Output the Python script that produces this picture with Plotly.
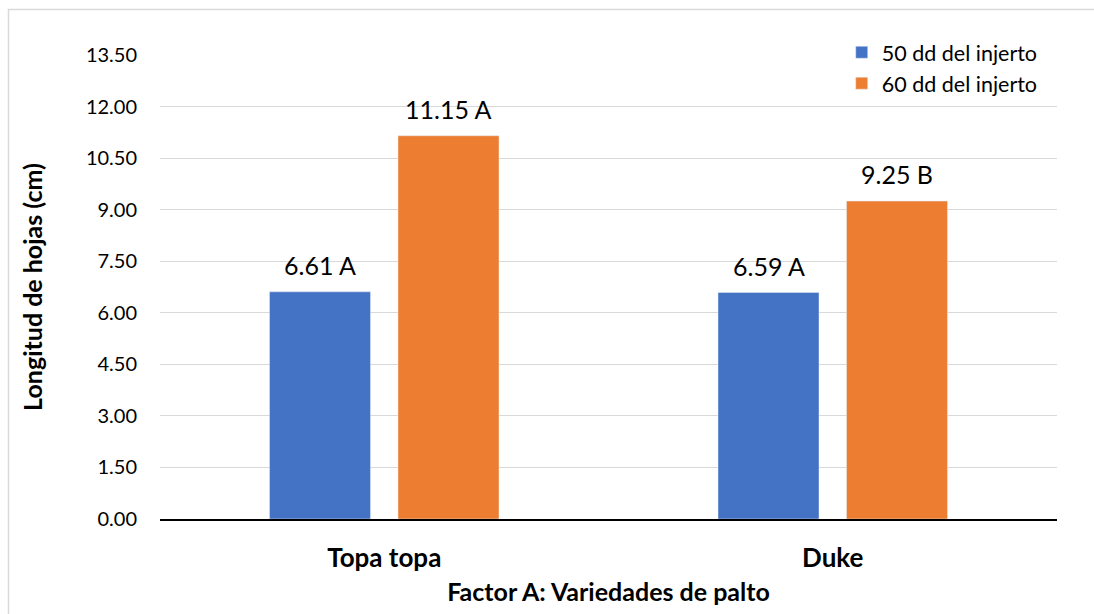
import plotly.graph_objects as go

# Leaf length by avocado variety, at two dates after grafting
varieties = ["Topa topa", "Duke"]
series_names = ["50 dd del injerto", "60 dd del injerto"]
values_50 = [6.61, 6.59]
values_60 = [11.15, 9.25]
letters_50 = ["A", "A"]
letters_60 = ["A", "B"]
y_ticks = [0, 1.5, 3, 4.5, 6, 7.5, 9, 10.5, 12, 13.5]

BLUE = "#4472C4"
ORANGE = "#ED7D31"
FONT = "Lato"

fig = go.Figure()
fig.add_trace(go.Bar(x=varieties, y=values_50, name=series_names[0],
                     marker_color=BLUE, legendgroup="a"))
fig.add_trace(go.Bar(x=varieties, y=values_60, name=series_names[1],
                     marker_color=ORANGE, legendgroup="b"))

# value + significance letter above each bar
for vals, letters, shift in [(values_50, letters_50, -64), (values_60, letters_60, 64)]:
    for cat, v, l in zip(varieties, vals, letters):
        fig.add_annotation(x=cat, y=v, text=f"{v:.2f} {l}", showarrow=False,
                           xshift=shift, yshift=10, yanchor="bottom",
                           font=dict(family=FONT, size=25, color="#000"))

# chart frame
fig.add_shape(type="rect", xref="paper", yref="paper",
              x0=-0.1689, x1=1.3, y0=1.0981, y1=-0.4,
              line=dict(color="#D9D9D9", width=1.5), fillcolor="rgba(0,0,0,0)",
              layer="below")

fig.update_layout(
    width=1094, height=614,
    margin=dict(l=160, r=37, t=55, b=95),
    paper_bgcolor="white", plot_bgcolor="white",
    barmode="group", bargap=0.427, bargroupgap=0.214,
    font=dict(family=FONT, color="#000"),
    showlegend=True,
    legend=dict(x=0.76, y=1.05, xanchor="left", yanchor="top",
                bgcolor="rgba(0,0,0,0)", font=dict(family=FONT, size=21.5),
                tracegroupgap=9, itemwidth=30, traceorder="normal"),
    xaxis=dict(showline=True, linecolor="#000", linewidth=2, ticks="",
               tickfont=dict(family=FONT, size=26, color="#000", weight="bold"),
               ticklabelstandoff=15,
               title=dict(text="<b>Factor A: Variedades de palto</b>",
                          font=dict(family=FONT, size=25, color="#000"), standoff=11)),
    yaxis=dict(range=[0, 13.5], tickvals=y_ticks, tickformat=".2f",
               showgrid=True, gridcolor="#D9D9D9", gridwidth=1.3,
               zeroline=False, ticks="", ticklabelstandoff=22,
               tickfont=dict(family=FONT, size=20, color="#000"),
               title=dict(text="<b>Longitud de hojas (cm)</b>",
                          font=dict(family=FONT, size=25, color="#000"), standoff=36)),
)

fig.write_html("out.html")
